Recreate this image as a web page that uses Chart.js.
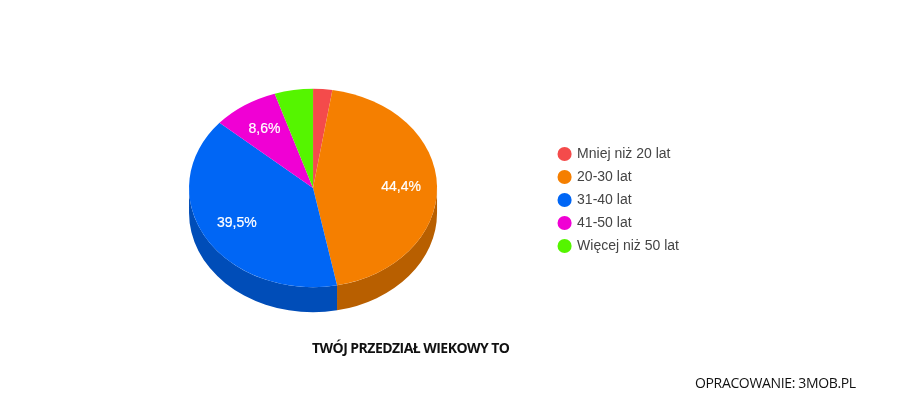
<!DOCTYPE html>
<html lang="pl">
<head>
<meta charset="utf-8">
<title>Twój przedział wiekowy to</title>
<script src="https://cdn.jsdelivr.net/npm/chart.js@4"></script>
<style>
  html, body { margin: 0; padding: 0; background: #fff; }
  #wrap { position: relative; width: 900px; height: 400px; overflow: hidden; }
  canvas { position: absolute; left: 0; top: 0; }
  .caption { position: absolute; font-family: "Open Sans", sans-serif; font-size: 14px; line-height: 20px; white-space: nowrap; color: #111; }
  #title { left: 312px; top: 338px; font-weight: 700; letter-spacing: -0.54px; }
  #source { left: 695px; top: 373px; letter-spacing: -0.35px; }
</style>
</head>
<body>
<div id="wrap">
  <canvas id="pie" width="900" height="400"></canvas>
  <div class="caption" id="title"></div>
  <div class="caption" id="source"></div>
</div>
<script>
const chartTitle = 'TWÓJ PRZEDZIAŁ WIEKOWY TO';
const sourceNote = 'OPRACOWANIE: 3MOB.PL';

const categories = ['Mniej niż 20 lat', '20-30 lat', '31-40 lat', '41-50 lat', 'Więcej niż 50 lat'];
const shares = [2.5, 44.4, 39.5, 8.6, 5.0];
const sliceLabels = ['', '44,4%', '39,5%', '8,6%', ''];
const topColors = ['#f44b4b', '#f57f00', '#0066f5', '#f000d4', '#55f500'];
const sideColors = ['#b73838', '#b85f00', '#004db8', '#b4009f', '#40b800'];

const TILT = 0.8;      // vertical squash of the disc
const DEPTH = 25;      // height of the rim in px
const LABEL_POS = 0.71;

// fake 3D: rim first, then squash the library's own arcs, then the labels
const tiltedPie = {
  id: 'tiltedPie',
  afterLayout(chart) {
    // legend sits a bit lower than the pie centre
    chart.legend.top += 12;
    chart.legend.bottom += 12;
  },
  beforeDatasetsDraw(chart) {
    const ctx = chart.ctx;
    const arcs = chart.getDatasetMeta(0).data;
    arcs.forEach((arc, i) => {
      const rx = arc.outerRadius;
      const ry = rx * TILT;
      const a = Math.max(arc.startAngle, 0);
      const b = Math.min(arc.endAngle, Math.PI);
      if (b <= a) return;
      ctx.beginPath();
      ctx.ellipse(arc.x, arc.y, rx, ry, 0, a, b);
      ctx.ellipse(arc.x, arc.y + DEPTH, rx, ry, 0, b, a, true);
      ctx.closePath();
      ctx.fillStyle = sideColors[i];
      ctx.fill();
    });
    const cy = arcs[0].y;
    ctx.save();
    ctx.translate(0, cy);
    ctx.scale(1, TILT);
    ctx.translate(0, -cy);
  },
  afterDatasetsDraw(chart) {
    const ctx = chart.ctx;
    ctx.restore();
    ctx.save();
    ctx.font = '14px "Liberation Sans", Arial, sans-serif';
    ctx.fillStyle = '#fff';
    ctx.strokeStyle = '#fff';
    ctx.lineWidth = 0.2;
    ctx.textAlign = 'center';
    ctx.textBaseline = 'middle';
    chart.getDatasetMeta(0).data.forEach((arc, i) => {
      if (!sliceLabels[i]) return;
      const mid = (arc.startAngle + arc.endAngle) / 2;
      const r = arc.outerRadius * LABEL_POS;
      const x = arc.x + Math.cos(mid) * r;
      const y = arc.y + Math.sin(mid) * r * TILT;
      ctx.fillText(sliceLabels[i], x, y);
      ctx.strokeText(sliceLabels[i], x, y);
    });
    ctx.restore();
  }
};

document.getElementById('title').textContent = chartTitle;
document.getElementById('source').textContent = sourceNote;

new Chart(document.getElementById('pie'), {
  type: 'pie',
  data: {
    labels: categories,
    datasets: [{ data: shares, backgroundColor: topColors, borderWidth: 0 }]
  },
  options: {
    responsive: false,
    animation: false,
    devicePixelRatio: 1,
    events: [],
    layout: { padding: { left: 76, right: 211, top: 64, bottom: 88 } },
    plugins: {
      legend: {
        position: 'right',
        labels: {
          usePointStyle: true,
          pointStyle: 'circle',
          boxWidth: 11,
          boxHeight: 10,
          padding: 9,
          color: '#444',
          font: { family: '"Liberation Sans", Arial, sans-serif', size: 14 }
        }
      },
      tooltip: { enabled: false }
    }
  },
  plugins: [tiltedPie]
});
</script>
</body>
</html>
